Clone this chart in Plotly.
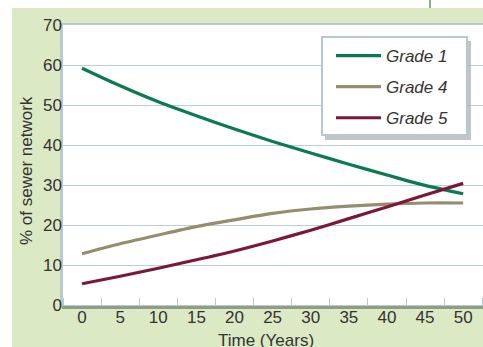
import plotly.graph_objects as go

years = [0, 5, 10, 15, 20, 25, 30, 35, 40, 45, 50]
grade1 = [59.2, 54.8, 50.8, 47.3, 44.0, 40.9, 38.0, 35.2, 32.5, 29.9, 27.8]
grade4 = [12.8, 15.3, 17.5, 19.6, 21.3, 22.9, 24.0, 24.7, 25.2, 25.5, 25.5]
grade5 = [5.3, 7.2, 9.2, 11.3, 13.5, 16.0, 18.7, 21.6, 24.5, 27.5, 30.4]
names = ["Grade 1", "Grade 4", "Grade 5"]
colors = ["#0c7a50", "#958d6d", "#7a1838"]
x_ticks = [0, 5, 10, 15, 20, 25, 30, 35, 40, 45, 50]
y_ticks = [0, 10, 20, 30, 40, 50, 60, 70]
x_title = "Time (Years)"
y_title = "% of sewer network"

W, H = 483, 347
ML, MR, MT, MB = 63, 0, 25, 42
PW, PH = W - ML - MR, H - MT - MB

def px(x):
    return (x - ML) / PW

def py(y):
    return (H - MB - y) / PH

fig = go.Figure()
for i, (nm, ys) in enumerate(zip(names, [grade1, grade4, grade5])):
    fig.add_trace(go.Scatter(x=years, y=ys, mode="lines", name=nm,
                             legendgroup=nm,
                             line=dict(color=colors[i], width=3.2, shape="spline",
                                       smoothing=0.8)))

shapes = [
    # green background panel
    dict(type="rect", xref="paper", yref="paper", x0=px(12), x1=px(484),
         y0=py(8), y1=py(348), fillcolor="#dbe9c4", line=dict(width=0), layer="below"),
    # plot-area shadow
    dict(type="rect", xref="paper", yref="paper", x0=px(62), x1=px(485),
         y0=py(24), y1=py(309), fillcolor="#8f9c86", line=dict(width=0), layer="below"),
    dict(type="rect", xref="paper", yref="paper", x0=px(60), x1=px(484),
         y0=py(23), y1=py(306), fillcolor="#b9c9cf", line=dict(width=0), layer="below"),
    dict(type="rect", xref="paper", yref="paper", x0=0, x1=1, y0=0, y1=1,
         fillcolor="white", line=dict(width=0), layer="below"),
    # legend shadow
    dict(type="rect", xref="paper", yref="paper", x0=px(325), x1=px(471),
         y0=py(41), y1=py(140), fillcolor="#a4acb0", line=dict(width=0), layer="above",
         opacity=0.7),
    # legend box
    dict(type="rect", xref="paper", yref="paper", x0=px(322), x1=px(467),
         y0=py(37), y1=py(135), fillcolor="white", line=dict(color="#b8c8cf", width=2),
         layer="above"),
    # small vertical line at top
    dict(type="line", xref="paper", yref="paper", x0=px(430), x1=px(430),
         y0=py(0), y1=py(8), line=dict(color="#6f8a6a", width=1.5)),
]

annotations = [
    dict(text=x_title, xref="paper", yref="paper", x=px(266), y=py(340),
         xanchor="center", yanchor="middle", showarrow=False,
         font=dict(size=17, color="#333333")),
    dict(text=y_title, xref="paper", yref="paper", x=px(27), y=py(171),
         xanchor="center", yanchor="middle", showarrow=False, textangle=-90,
         font=dict(size=17, color="#333333")),
]

fig.update_layout(
    width=W, height=H,
    margin=dict(l=ML, r=MR, t=MT, b=MB, autoexpand=False),
    paper_bgcolor="white", plot_bgcolor="white",
    font=dict(family="Liberation Sans, Arial, sans-serif", size=17, color="#333333"),
    shapes=shapes,
    annotations=annotations,
    showlegend=True,
    legend=dict(x=px(331), y=py(38), xanchor="left", yanchor="top",
                bgcolor="rgba(0,0,0,0)", borderwidth=0,
                font=dict(size=17, style="italic", color="#333333"),
                tracegroupgap=6, itemwidth=45),
    xaxis=dict(range=[-2.5, 52.6], tickvals=x_ticks, showgrid=False, zeroline=False,
               ticks="", showline=False, automargin=False,
               minor=dict(tick0=2.5, dtick=5, ticks="inside", ticklen=7,
                          tickcolor="#b8c8cf", tickwidth=1.2, showgrid=False)),
    yaxis=dict(range=[0, 70], tickvals=y_ticks, showgrid=True, gridcolor="#bccdd3",
               gridwidth=1.3, zeroline=False, ticks="", showline=False, automargin=False),
)

fig.write_html("out.html", config={"displayModeBar": False},
               post_script="document.body.style.margin='0';document.body.style.overflow='hidden';")
